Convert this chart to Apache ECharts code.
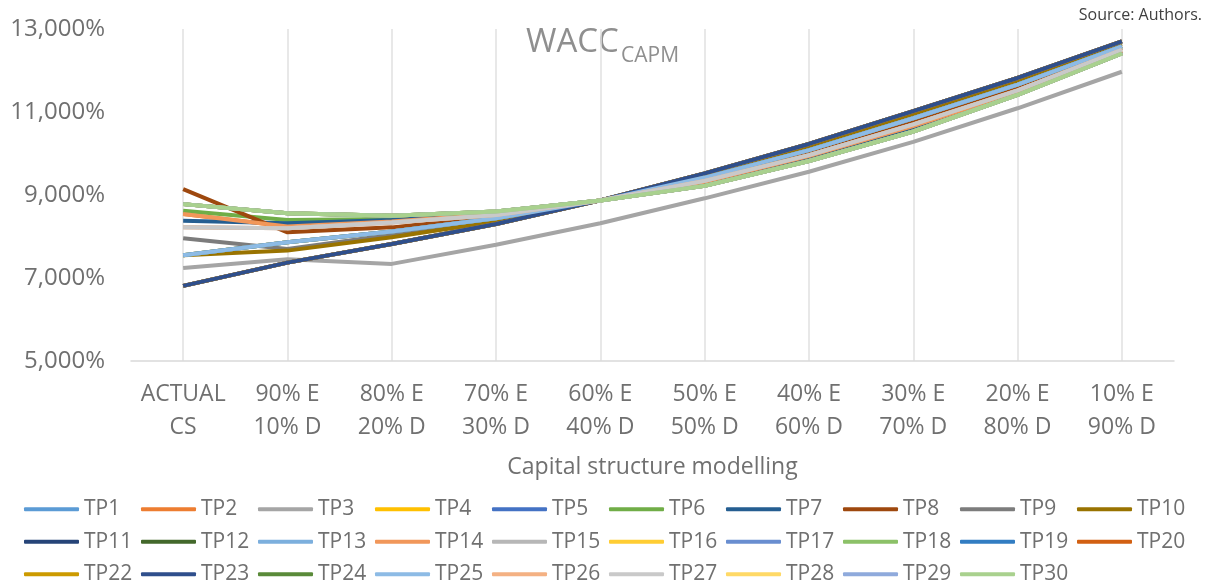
<!DOCTYPE html>
<html>
<head>
<meta charset="utf-8">
<script src="https://cdn.jsdelivr.net/npm/echarts@6/dist/echarts.min.js"></script>
<style>
  html, body { margin: 0; padding: 0; background: #fff; }
  #chartsDom { width: 1211px; height: 587px; }
</style>
</head>
<body>
<div id="chartsDom"></div>
<script>
/* 数据 */
const categories = ['ACTUAL\nCS', '90% E\n10% D', '80% E\n20% D', '70% E\n30% D', '60% E\n40% D',
  '50% E\n50% D', '40% E\n60% D', '30% E\n70% D', '20% E\n80% D', '10% E\n90% D'];

const TP1  = [7.55, 7.86, 8.12, 8.44, 8.87, 9.42, 10.08, 10.85, 11.66, 12.58];
const TP2  = [8.54, 8.24, 8.36, 8.54, 8.87, 9.32, 9.94, 10.66, 11.48, 12.47];
const TP3  = [7.24, 7.45, 7.34, 7.80, 8.32, 8.92, 9.56, 10.28, 11.09, 11.97];
const TP4  = [7.55, 7.86, 8.12, 8.44, 8.87, 9.42, 10.08, 10.85, 11.66, 12.58];
const TP5  = [6.81, 7.37, 7.82, 8.30, 8.87, 9.52, 10.23, 11.02, 11.82, 12.70];
const TP6  = [8.62, 8.40, 8.42, 8.56, 8.87, 9.28, 9.88, 10.58, 11.44, 12.44];
const TP7  = [8.38, 8.32, 8.40, 8.55, 8.87, 9.30, 9.91, 10.62, 11.46, 12.46];
const TP8  = [9.14, 8.10, 8.22, 8.48, 8.87, 9.38, 10.02, 10.76, 11.58, 12.54];
const TP9  = [7.96, 7.70, 8.04, 8.40, 8.87, 9.44, 10.12, 10.90, 11.70, 12.60];
const TP10 = [7.55, 7.66, 7.98, 8.36, 8.87, 9.47, 10.16, 10.94, 11.74, 12.64];
const TP11 = [6.81, 7.37, 7.82, 8.30, 8.87, 9.52, 10.23, 11.02, 11.82, 12.70];
const TP12 = [8.78, 8.56, 8.50, 8.60, 8.87, 9.22, 9.82, 10.53, 11.41, 12.41];
const TP13 = [7.55, 7.86, 8.12, 8.44, 8.87, 9.42, 10.08, 10.85, 11.66, 12.58];
const TP14 = [8.54, 8.24, 8.36, 8.54, 8.87, 9.32, 9.94, 10.66, 11.48, 12.47];
const TP15 = [8.22, 8.20, 8.34, 8.52, 8.87, 9.34, 9.96, 10.70, 11.52, 12.50];
const TP16 = [7.55, 7.86, 8.12, 8.44, 8.87, 9.42, 10.08, 10.85, 11.66, 12.58];
const TP17 = [6.81, 7.37, 7.82, 8.30, 8.87, 9.52, 10.23, 11.02, 11.82, 12.70];
const TP18 = [8.78, 8.56, 8.50, 8.60, 8.87, 9.22, 9.82, 10.53, 11.41, 12.41];
const TP19 = [7.55, 7.86, 8.12, 8.44, 8.87, 9.42, 10.08, 10.85, 11.66, 12.58];
const TP20 = [6.81, 7.37, 7.82, 8.30, 8.87, 9.52, 10.23, 11.02, 11.82, 12.70];
const TP22 = [6.81, 7.37, 7.82, 8.30, 8.87, 9.52, 10.23, 11.02, 11.82, 12.70];
const TP23 = [6.81, 7.37, 7.82, 8.30, 8.87, 9.52, 10.23, 11.02, 11.82, 12.70];
const TP24 = [8.78, 8.56, 8.50, 8.60, 8.87, 9.22, 9.82, 10.53, 11.41, 12.41];
const TP25 = [7.55, 7.86, 8.12, 8.44, 8.87, 9.42, 10.08, 10.85, 11.66, 12.58];
const TP26 = [8.22, 8.20, 8.34, 8.52, 8.87, 9.34, 9.96, 10.70, 11.52, 12.50];
const TP27 = [8.22, 8.20, 8.34, 8.52, 8.87, 9.34, 9.96, 10.70, 11.52, 12.50];
const TP28 = [8.78, 8.56, 8.50, 8.60, 8.87, 9.22, 9.82, 10.53, 11.41, 12.41];
const TP29 = [8.78, 8.56, 8.50, 8.60, 8.87, 9.22, 9.82, 10.53, 11.41, 12.41];
const TP30 = [8.78, 8.56, 8.50, 8.60, 8.87, 9.22, 9.82, 10.53, 11.41, 12.41];

const seriesList = [
  ['TP1', TP1, '#5B9BD5'], ['TP2', TP2, '#ED7D31'], ['TP3', TP3, '#A5A5A5'],
  ['TP4', TP4, '#FFC000'], ['TP5', TP5, '#4472C4'], ['TP6', TP6, '#70AD47'],
  ['TP7', TP7, '#255E91'], ['TP8', TP8, '#9E480E'], ['TP9', TP9, '#7C7C7C'],
  ['TP10', TP10, '#997300'], ['TP11', TP11, '#264478'], ['TP12', TP12, '#43682B'],
  ['TP13', TP13, '#7CAFDD'], ['TP14', TP14, '#F1975A'], ['TP15', TP15, '#B7B7B7'],
  ['TP16', TP16, '#FFCD33'], ['TP17', TP17, '#698ED0'], ['TP18', TP18, '#8CC168'],
  ['TP19', TP19, '#327DC2'], ['TP20', TP20, '#D26012'], ['TP22', TP22, '#CC9A00'],
  ['TP23', TP23, '#2F4F8C'], ['TP24', TP24, '#5A8A39'], ['TP25', TP25, '#8DBBE5'],
  ['TP26', TP26, '#F4B183'], ['TP27', TP27, '#C9C9C9'], ['TP28', TP28, '#FFD966'],
  ['TP29', TP29, '#8FAADC'], ['TP30', TP30, '#A9D18E']
];

const chartsDom = echarts.init(document.getElementById('chartsDom'));
const textColor = '#707070';
const fontFamily = '"Open Sans", sans-serif';

let option = {
  animation: false,
  graphic: [
    {
      type: 'text', left: 526, top: 26,
      style: { text: 'WACC', fontSize: 33, fill: '#8f8f8f', fontFamily: fontFamily }
    },
    {
      type: 'text', left: 621, top: 46,
      style: { text: 'CAPM', fontSize: 21, fill: '#8f8f8f', fontFamily: fontFamily }
    },
    {
      type: 'text', right: 9, top: 7,
      style: { text: 'Source: Authors.', fontSize: 16, fill: '#404040', fontFamily: fontFamily }
    }
  ],
  grid: {
    left: 131,
    right: 37,
    top: 29,
    bottom: 226,
    containLabel: false
  },
  legend: {
    left: 19,
    top: 492,
    width: 1185,
    icon: 'roundRect',
    itemWidth: 55,
    itemHeight: 4,
    itemGap: 8,
    textStyle: { fontSize: 21, lineHeight: 24.5, width: 49, color: textColor, fontFamily: fontFamily }
  },
  xAxis: {
    type: 'category',
    data: categories,
    boundaryGap: true,
    name: 'Capital structure modelling',
    nameLocation: 'middle',
    nameGap: 92,
    nameTextStyle: { fontSize: 23, color: textColor, fontFamily: fontFamily, lineHeight: 28 },
    axisLine: { lineStyle: { color: '#d9d9d9', width: 1.5 } },
    axisTick: { show: false },
    axisLabel: { interval: 0, fontSize: 23, lineHeight: 33, margin: 17, color: textColor, fontFamily: fontFamily },
    splitLine: { show: true, interval: 0, alignWithLabel: true, lineStyle: { color: '#e0e0e0', width: 1.5 } }
  },
  yAxis: {
    type: 'value',
    min: 5,
    max: 13,
    interval: 2,
    axisLine: { show: false },
    axisTick: { show: false },
    splitLine: { show: false },
    axisLabel: {
      fontSize: 24,
      margin: 26,
      color: textColor,
      fontFamily: fontFamily,
      formatter: v => v.toFixed(3).replace('.', ',') + '%'
    }
  },
  series: seriesList.map(([name, data, color]) => ({
    name: name,
    type: 'line',
    data: data,
    symbol: 'none',
    color: color,
    lineStyle: { color: color, width: 4 }
  }))
};
option && chartsDom.setOption(option);
</script>
</body>
</html>
